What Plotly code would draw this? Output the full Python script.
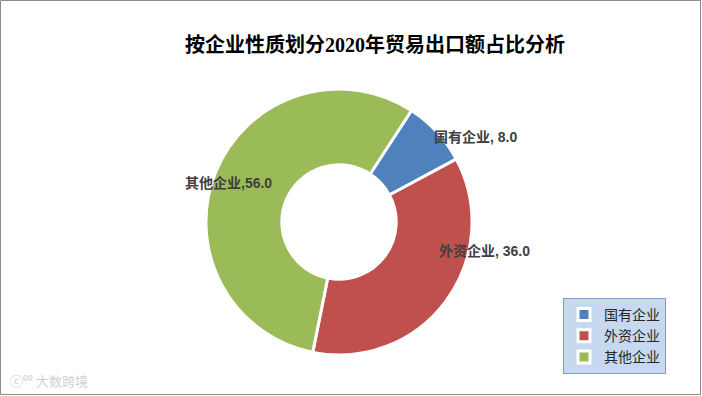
import plotly.graph_objects as go

categories = ["国有企业", "外资企业", "其他企业"]
values = [8.0, 36.0, 56.0]
colors = ["#4f81bd", "#c0504d", "#9bbb59"]
title_text = "按企业性质划分2020年贸易出口额占比分析"

W, H = 702, 396

fig = go.Figure()
fig.add_trace(go.Pie(
    labels=categories,
    values=values,
    hole=0.43,
    sort=False,
    direction="clockwise",
    rotation=33,
    marker=dict(colors=colors, line=dict(color="white", width=3)),
    textinfo="none",
    hoverinfo="label+value",
    domain=dict(x=[205 / W, 473 / W], y=[41 / H, 307 / H]),
))

# data label positions (pixels)
label_pos = [(475, 137), (484, 251), (228, 183)]
for cat, val, (px, py) in zip(categories, values, label_pos):
    sep = "," if cat == "其他企业" else ", "
    fig.add_annotation(
        x=px / W, y=1 - py / H, xref="paper", yref="paper",
        text=f"<b>{cat}{sep}{val:.1f}</b>", showarrow=False,
        font=dict(size=14, color="#404040",
                  family="Liberation Sans, Noto Sans CJK SC"),
        xanchor="center", yanchor="middle",
    )

# watermark
fig.add_annotation(
    x=8 / W, y=1 - 380 / H, xref="paper", yref="paper",
    text="ⓒ⁰⁰ 大数跨境", showarrow=False,
    font=dict(size=13, color="#d0d0d0", family="Noto Sans CJK SC"),
    xanchor="left", yanchor="middle",
)

# outer border
fig.add_shape(type="rect", xref="paper", yref="paper",
              x0=0.5 / W, x1=1 - 1.5 / W, y0=1.5 / H, y1=1 - 0.5 / H,
              line=dict(color="#8c8c8c", width=1), fillcolor="rgba(0,0,0,0)")

fig.update_layout(
    width=W, height=H,
    margin=dict(l=0, r=0, t=0, b=0),
    paper_bgcolor="white",
    title=dict(
        text="<b>" + title_text + "</b>",
        x=375 / W, xanchor="center", y=1 - 45 / H, yanchor="middle",
        font=dict(size=20, color="#000000",
                  family="Liberation Serif, Noto Sans CJK SC"),
    ),
    showlegend=True,
    legend=dict(
        x=563 / W, y=1 - 298 / H, xanchor="left", yanchor="top",
        bgcolor="#c6d9f1", bordercolor="#7f9cc4", borderwidth=1,
        font=dict(size=14, color="#262626",
                  family="Noto Sans CJK SC"),
        itemwidth=30, tracegroupgap=0,
    ),
)

fig.write_html("out.html", config={"displayModeBar": False},
               post_script="document.body.style.margin='0';document.body.style.overflow='hidden';")
